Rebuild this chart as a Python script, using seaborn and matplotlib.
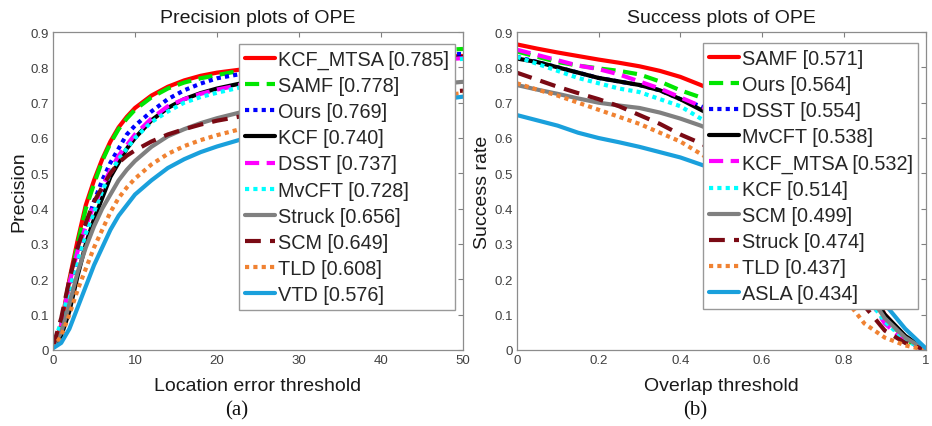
import numpy as np
import pandas as pd
import matplotlib
matplotlib.use("Agg")
import matplotlib.pyplot as plt
import seaborn as sns
from matplotlib.ticker import FuncFormatter

sns.set_theme(style="white")
plt.rcParams["font.family"] = ["Liberation Sans", "DejaVu Sans"]

# ---------------- data ----------------
prec_x = [0, 1, 2, 3, 4, 5, 6, 7, 8, 9, 10, 12, 14, 16, 18, 20, 25, 30, 35, 40, 45, 50]
prec_labels = ["KCF_MTSA [0.785]", "SAMF [0.778]", "Ours [0.769]", "KCF [0.740]",
               "DSST [0.737]", "MvCFT [0.728]", "Struck [0.656]", "SCM [0.649]",
               "TLD [0.608]", "VTD [0.576]"]
prec_kcf_mtsa = [0.01, 0.07, 0.20, 0.31, 0.41, 0.48, 0.54, 0.59, 0.63, 0.66, 0.685, 0.72, 0.745, 0.763, 0.776, 0.785, 0.80, 0.81, 0.818, 0.824, 0.829, 0.832]
prec_samf = [0.01, 0.07, 0.19, 0.30, 0.40, 0.47, 0.535, 0.585, 0.625, 0.655, 0.68, 0.715, 0.74, 0.757, 0.769, 0.778, 0.80, 0.815, 0.828, 0.838, 0.846, 0.852]
prec_ours = [0.01, 0.06, 0.16, 0.26, 0.35, 0.42, 0.48, 0.53, 0.57, 0.61, 0.635, 0.675, 0.71, 0.735, 0.754, 0.769, 0.79, 0.805, 0.817, 0.826, 0.833, 0.838]
prec_kcf = [0.01, 0.04, 0.11, 0.21, 0.30, 0.37, 0.43, 0.49, 0.53, 0.57, 0.60, 0.65, 0.685, 0.71, 0.727, 0.740, 0.765, 0.785, 0.80, 0.813, 0.822, 0.828]
prec_dsst = [0.01, 0.07, 0.19, 0.28, 0.35, 0.41, 0.46, 0.51, 0.55, 0.58, 0.61, 0.655, 0.69, 0.71, 0.725, 0.737, 0.76, 0.78, 0.795, 0.808, 0.818, 0.826]
prec_mvcft = [0.01, 0.08, 0.17, 0.25, 0.33, 0.39, 0.45, 0.50, 0.54, 0.57, 0.60, 0.645, 0.675, 0.70, 0.716, 0.728, 0.755, 0.775, 0.79, 0.803, 0.815, 0.824]
prec_struck = [0.01, 0.05, 0.13, 0.22, 0.29, 0.35, 0.40, 0.44, 0.48, 0.51, 0.535, 0.575, 0.605, 0.625, 0.642, 0.656, 0.685, 0.705, 0.722, 0.737, 0.749, 0.759]
prec_scm = [0.01, 0.09, 0.20, 0.29, 0.36, 0.42, 0.46, 0.50, 0.53, 0.55, 0.565, 0.59, 0.61, 0.625, 0.638, 0.649, 0.67, 0.688, 0.703, 0.715, 0.725, 0.734]
prec_tld = [0.005, 0.04, 0.10, 0.17, 0.23, 0.29, 0.34, 0.39, 0.43, 0.46, 0.485, 0.525, 0.555, 0.577, 0.594, 0.608, 0.638, 0.662, 0.683, 0.70, 0.715, 0.727]
prec_vtd = [0.005, 0.02, 0.06, 0.12, 0.18, 0.24, 0.29, 0.34, 0.38, 0.41, 0.44, 0.48, 0.515, 0.54, 0.56, 0.576, 0.61, 0.64, 0.665, 0.685, 0.702, 0.717]

succ_x = [0, 0.05, 0.1, 0.15, 0.2, 0.25, 0.3, 0.35, 0.4, 0.45, 0.5, 0.55, 0.6, 0.65, 0.7, 0.75, 0.8, 0.85, 0.9, 0.95, 1.0]
succ_labels = ["SAMF [0.571]", "Ours [0.564]", "DSST [0.554]", "MvCFT [0.538]",
               "KCF_MTSA [0.532]", "KCF [0.514]", "SCM [0.499]", "Struck [0.474]",
               "TLD [0.437]", "ASLA [0.434]"]
succ_samf = [0.865, 0.853, 0.842, 0.832, 0.822, 0.813, 0.803, 0.79, 0.773, 0.75, 0.725, 0.695, 0.655, 0.60, 0.53, 0.43, 0.32, 0.21, 0.10, 0.035, 0.0]
succ_ours = [0.845, 0.83, 0.815, 0.805, 0.797, 0.79, 0.78, 0.76, 0.735, 0.715, 0.69, 0.66, 0.62, 0.565, 0.50, 0.41, 0.30, 0.20, 0.095, 0.03, 0.0]
succ_dsst = [0.83, 0.815, 0.80, 0.785, 0.77, 0.76, 0.75, 0.735, 0.71, 0.69, 0.665, 0.635, 0.595, 0.545, 0.48, 0.395, 0.29, 0.19, 0.09, 0.03, 0.0]
succ_mvcft = [0.825, 0.815, 0.80, 0.785, 0.77, 0.76, 0.75, 0.735, 0.71, 0.68, 0.65, 0.615, 0.57, 0.52, 0.455, 0.375, 0.28, 0.185, 0.10, 0.04, 0.0]
succ_kcf_mtsa = [0.85, 0.835, 0.82, 0.805, 0.795, 0.78, 0.76, 0.74, 0.715, 0.69, 0.66, 0.625, 0.58, 0.525, 0.46, 0.375, 0.27, 0.165, 0.075, 0.025, 0.0]
succ_kcf = [0.83, 0.81, 0.79, 0.77, 0.755, 0.74, 0.73, 0.71, 0.69, 0.655, 0.625, 0.59, 0.545, 0.495, 0.43, 0.35, 0.255, 0.16, 0.08, 0.028, 0.0]
succ_scm = [0.75, 0.737, 0.725, 0.712, 0.70, 0.692, 0.685, 0.672, 0.655, 0.635, 0.61, 0.58, 0.54, 0.49, 0.43, 0.355, 0.265, 0.175, 0.09, 0.035, 0.0]
succ_struck = [0.785, 0.765, 0.745, 0.727, 0.71, 0.69, 0.665, 0.64, 0.61, 0.585, 0.555, 0.52, 0.48, 0.43, 0.37, 0.30, 0.215, 0.125, 0.055, 0.02, 0.0]
succ_tld = [0.755, 0.737, 0.72, 0.70, 0.68, 0.66, 0.64, 0.615, 0.59, 0.555, 0.52, 0.48, 0.435, 0.38, 0.32, 0.245, 0.15, 0.075, 0.035, 0.013, 0.0]
succ_asla = [0.665, 0.65, 0.635, 0.615, 0.60, 0.588, 0.575, 0.56, 0.545, 0.525, 0.505, 0.48, 0.45, 0.41, 0.36, 0.305, 0.25, 0.195, 0.13, 0.06, 0.005]

prec_series = [prec_kcf_mtsa, prec_samf, prec_ours, prec_kcf, prec_dsst,
               prec_mvcft, prec_struck, prec_scm, prec_tld, prec_vtd]
succ_series = [succ_samf, succ_ours, succ_dsst, succ_mvcft, succ_kcf_mtsa,
               succ_kcf, succ_scm, succ_struck, succ_tld, succ_asla]

# ---------------- styles ----------------
colors = ["#ff0000", "#00e600", "#0000ff", "#000000", "#ff00ff",
          "#00ffff", "#808080", "#7a0a14", "#f08232", "#1aa0dc"]
styles = ["-", (0, (3.4, 1.8)), (0, (1, 1)), "-", (0, (3.4, 1.8)),
          (0, (1, 1)), "-", (0, (3.8, 2.2)), (0, (1, 1)), "-"]

fig = plt.figure(figsize=(9.32, 4.27), dpi=100)
ax1 = fig.add_axes([53 / 932, 1 - 351 / 427, 410 / 932, 318 / 427])
ax2 = fig.add_axes([516.7 / 932, 1 - 351 / 427, 409 / 932, 318 / 427])

fmt = FuncFormatter(lambda v, p: f"{v:g}")


def draw(ax, xs, series, labels, xlim, xticks, title, xlabel, ylabel, leg_anchor):
    for vals, lab, c, ls in zip(series, labels, colors, styles):
        df = pd.DataFrame({"x": xs, "y": vals})
        sns.lineplot(data=df, x="x", y="y", ax=ax, color=c, linewidth=3,
                     linestyle=ls, label=lab)
    ax.set_xlim(*xlim)
    ax.set_ylim(0, 0.9)
    ax.set_xticks(xticks)
    ax.set_yticks(np.arange(0, 0.91, 0.1))
    ax.xaxis.set_major_formatter(fmt)
    ax.yaxis.set_major_formatter(fmt)
    ax.tick_params(direction="in", top=True, right=True, length=3.5, width=0.8,
                   color="#808080", labelsize=9.5, labelcolor="#404040", pad=3)
    for s in ax.spines.values():
        s.set_color("#8c8c8c")
        s.set_linewidth(0.9)
    ax.set_title(title, fontsize=14, color="#1a1a1a", pad=7)
    ax.set_xlabel(xlabel, fontsize=14, color="#1a1a1a", labelpad=8)
    ax.set_ylabel(ylabel, fontsize=14, color="#1a1a1a", labelpad=2)
    leg = ax.legend(loc="upper left", bbox_to_anchor=leg_anchor, fontsize=14.3,
                    frameon=True, fancybox=False, edgecolor="#999999",
                    framealpha=1, handlelength=1.5, handletextpad=0.15,
                    labelspacing=0.355, borderpad=0.3, borderaxespad=0)
    leg.get_frame().set_linewidth(1.0)
    for line in leg.get_lines():
        line.set_linewidth(3)


draw(ax1, prec_x, prec_series, prec_labels, (0, 50), [0, 10, 20, 30, 40, 50],
     "Precision plots of OPE", "Location error threshold", "Precision", (0.454, 0.962))
draw(ax2, succ_x, succ_series, succ_labels, (0, 1), [0, 0.2, 0.4, 0.6, 0.8, 1.0],
     "Success plots of OPE", "Overlap threshold", "Success rate", (0.455, 0.965))

fig.text(0.254, 0.037, "(a)", family="Liberation Serif", fontsize=15,
         ha="center", va="center", color="#111111")
fig.text(0.746, 0.037, "(b)", family="Liberation Serif", fontsize=15,
         ha="center", va="center", color="#111111")

fig.savefig("out.png", dpi=100)
